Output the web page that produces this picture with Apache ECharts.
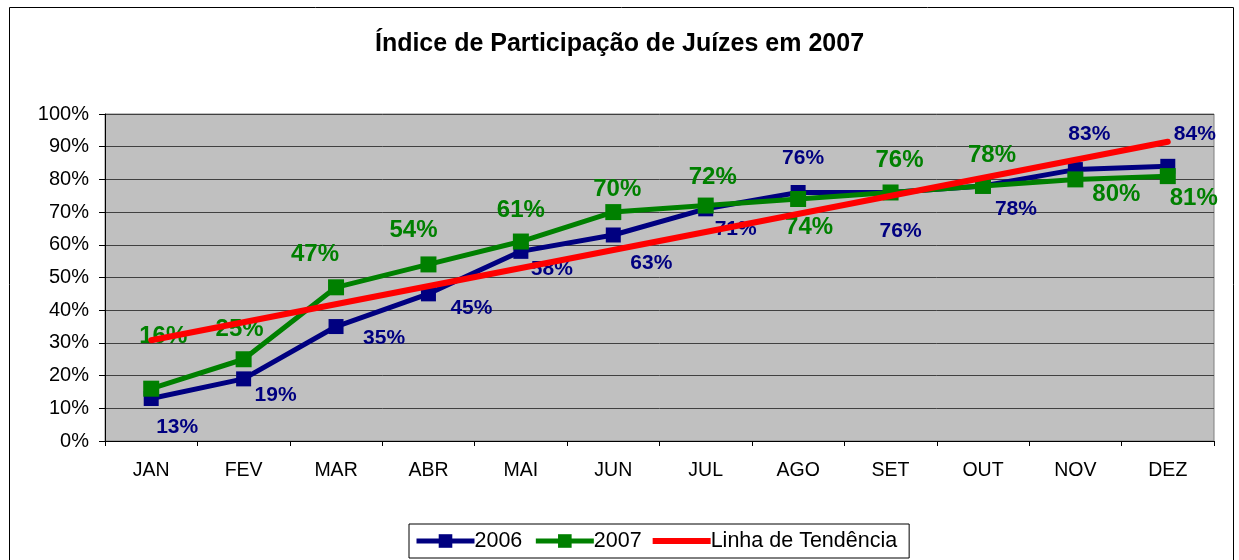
<!DOCTYPE html>
<html>
<head>
<meta charset="utf-8">
<script src="https://cdn.jsdelivr.net/npm/echarts@6/dist/echarts.min.js"></script>
<style>
  html, body { margin: 0; padding: 0; background: #fff; }
  #chart { width: 1239px; height: 560px; }
</style>
</head>
<body>
<div id="chart"></div>
<script>
var months = ['JAN', 'FEV', 'MAR', 'ABR', 'MAI', 'JUN', 'JUL', 'AGO', 'SET', 'OUT', 'NOV', 'DEZ'];
var data2006 = [13, 19, 35, 45, 58, 63, 71, 76, 76, 78, 83, 84];
var data2007 = [16, 25, 47, 54, 61, 70, 72, 74, 76, 78, 80, 81];
// trend line: read at its two ends
var trendMonths = ['JAN', 'DEZ'];
var trendValues = [30.8, 91.5];

// label placement (pixel offsets from each point)
var off2006 = [[26, 29], [32, 16], [48, 12], [43, 14], [31, 18], [38, 28], [30, 20], [5, -34], [10, 39], [33, 23], [14, -35], [27, -32]];
var off2007 = [[12, -52], [-4, -30], [-21, -33], [-15, -34], [0, -31], [4, -23], [7, -28], [11, 28], [9, -32], [9, -31], [41, 15], [26, 22]];

var FONT = '"Liberation Sans", Arial, sans-serif';

function withLabels(values, offsets, color, size) {
  return values.map(function (v, i) {
    return {
      value: v,
      label: {
        show: true,
        position: 'inside',
        offset: offsets[i],
        formatter: v + '%',
        color: color,
        fontFamily: FONT,
        fontWeight: 'bold',
        fontSize: size
      }
    };
  });
}

var myChart = echarts.init(document.getElementById('chart'));

var option = {
  animation: false,
  backgroundColor: '#fff',
  title: {
    text: 'Índice de Participação de Juízes em 2007',
    left: 'center',
    top: 27,
    textStyle: { fontFamily: FONT, fontWeight: 'bold', fontSize: 25, color: '#000' }
  },
  graphic: [{
    type: 'rect',
    shape: { x: 9.5, y: 7.5, width: 1224, height: 570 },
    style: { fill: 'none', stroke: '#000', lineWidth: 1 },
    silent: true,
    z: -10
  }],
  legend: {
    bottom: 2,
    left: 409,
    itemWidth: 58,
    itemHeight: 17,
    itemGap: 11,
    padding: [6, 12, 6, 5],
    borderColor: '#000',
    borderWidth: 1,
    lineStyle: { width: 5 },
    textStyle: { fontFamily: FONT, fontSize: 21.5, color: '#000', padding: [0, 0, 0, -5] },
    data: [
      '2006',
      '2007',
      { name: 'Linha de Tendência', icon: 'path://M0,0 L58,0 L58,6 L0,6 Z', itemStyle: { color: '#ff0000' } }
    ]
  },
  grid: {
    left: 105,
    right: 25,
    top: 114,
    bottom: 119,
    show: true,
    backgroundColor: '#c0c0c0',
    borderColor: '#808080',
    borderWidth: 1
  },
  xAxis: {
    type: 'category',
    data: months,
    boundaryGap: true,
    axisLine: { lineStyle: { color: '#000', width: 1 } },
    axisTick: { show: true, length: 5, interval: 0, lineStyle: { color: '#000' } },
    axisLabel: { margin: 20, fontFamily: FONT, fontSize: 19.5, color: '#000', interval: 0 }
  },
  yAxis: {
    type: 'value',
    min: 0,
    max: 100,
    interval: 10,
    axisLine: { show: true, lineStyle: { color: '#000', width: 1 } },
    axisTick: { show: true, length: 6, lineStyle: { color: '#000' } },
    axisLabel: { margin: 16, fontFamily: FONT, fontSize: 20, color: '#000', formatter: '{value}%' },
    splitLine: { show: true, lineStyle: { color: '#404040', width: 1 } }
  },
  series: [
    {
      name: '2006',
      type: 'line',
      data: withLabels(data2006, off2006, '#000080', 21),
      symbol: 'rect',
      symbolSize: 15,
      itemStyle: { color: '#000080' },
      lineStyle: { color: '#000080', width: 5 },
      z: 3
    },
    {
      name: '2007',
      type: 'line',
      data: withLabels(data2007, off2007, '#008000', 24),
      symbol: 'rect',
      symbolSize: 16,
      itemStyle: { color: '#008000' },
      lineStyle: { color: '#008000', width: 5 },
      z: 4
    },
    {
      name: 'Linha de Tendência',
      type: 'line',
      data: trendMonths.map(function (m, i) { return [m, trendValues[i]]; }),
      symbol: 'none',
      itemStyle: { color: '#ff0000' },
      lineStyle: { color: '#ff0000', width: 6, cap: 'round' },
      z: 5
    }
  ]
};

myChart.setOption(option);

window.onresize = function () {
  myChart.resize();
};
</script>
</body>
</html>
